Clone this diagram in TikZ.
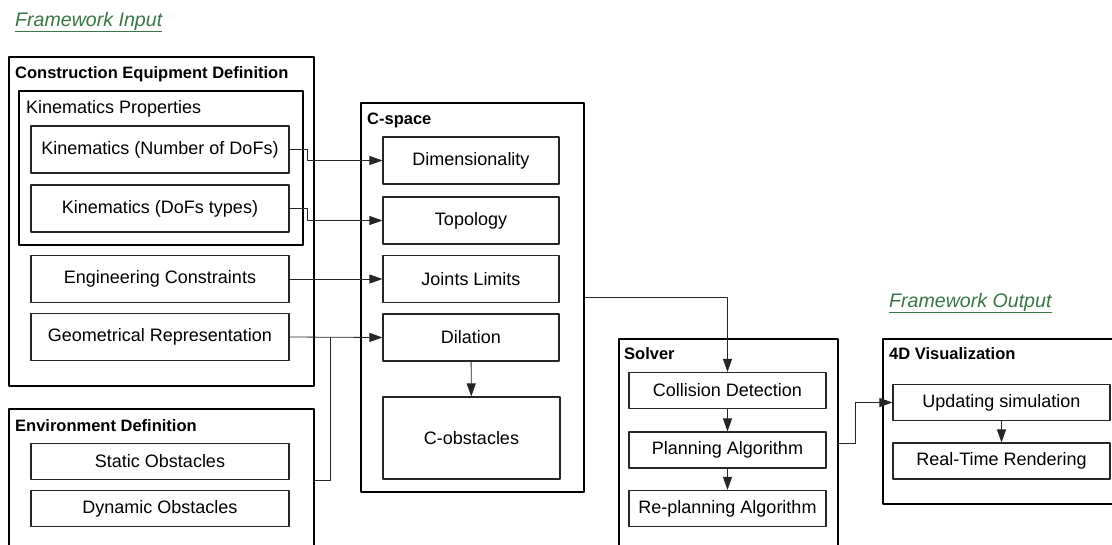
\documentclass[tikz,border=0pt]{standalone}
\usepackage{fontspec}
\setmainfont{Liberation Sans}
\usetikzlibrary{arrows.meta}
\definecolor{fwgreen}{RGB}{56,118,70}

\begin{document}
\begin{tikzpicture}[x=1pt, y=-1pt, font=\fontsize{18}{21}\selectfont, line join=round, >={Triangle[length=13pt,width=9pt]},
	obox/.style={draw, line width=1.8pt, inner sep=0pt, anchor=north west},
	ibox/.style={draw=black!85, line width=1.1pt, inner sep=0pt},
	title/.style={anchor=base west, inner sep=0pt, font=\fontsize{16.5}{20}\selectfont\bfseries},
	conn/.style={line width=0.8pt, black!85},
	fwlabel/.style={anchor=base west, inner sep=0pt, text=fwgreen, font=\fontsize{19.6}{23}\selectfont\itshape}]
	\useasboundingbox (0,0) rectangle (1112,544);
	\clip (0,0) rectangle (1112,544);
	
	% frames
	\node[obox, minimum width=305, minimum height=329] (ced) at (8,56) {};
	\node[obox, minimum width=284, minimum height=154] (kp) at (18,90) {};
	\node[obox, minimum width=305, minimum height=142] (env) at (8,408) {};
	\node[obox, minimum width=223, minimum height=389] (cs) at (360,102) {};
	\node[obox, minimum width=219, minimum height=222] (sv) at (618,338) {};
	\node[obox, minimum width=238, minimum height=165] (vis) at (882,338) {};
	
	\node[fwlabel] (fin) at (15,26) {\underline{Framework Input}};
	\node[fwlabel] (fout) at (889,307) {\underline{Framework Output}};
	\node[title] (tced) at (15,78) {Construction Equipment Definition};
	\node[title, font=\fontsize{18}{21}\selectfont] (tkp) at (26,113) {Kinematics Properties};
	\node[title] (tenv) at (15,431) {Environment Definition};
	\node[title] (tcs) at (367,124) {C-space};
	\node[title] (tsv) at (624,359) {Solver};
	\node[title] (tvis) at (889,359) {4D Visualization};
	
	% input column
	\foreach \n/\y/\h/\t in {kn/149.5/47/{Kinematics (Number of DoFs)}, dt/208.5/47/{Kinematics (DoFs types)},
		eng/279/47/{Engineering Constraints}, geo/337/47/{Geometrical Representation},
		so/461.5/36/{Static Obstacles}, do/508.5/36/{Dynamic Obstacles}}
	\node[ibox, minimum width=258, minimum height=\h] (\n) at (160,\y) {\t};
	
	% c-space column
	\foreach \n/\y/\t in {dim/160.5/Dimensionality, topo/220.5/Topology, jl/279/Joints Limits, dil/337.5/Dilation}
	\node[ibox, minimum width=176, minimum height=47] (\n) at (471,\y) {\t};
	\node[ibox, minimum width=177, minimum height=82] (cob) at (471.5,438) {C-obstacles};
	
	% solver and output
	\foreach \n/\y/\t in {cd/390.5/Collision Detection, pa/450/Planning Algorithm, rp/508.5/Re-planning Algorithm}
	\node[ibox, minimum width=197, minimum height=36] (\n) at (727.5,\y) {\t};
	\foreach \n/\y/\t in {up/402.5/Updating simulation, rt/461/Real-Time Rendering}
	\node[ibox, minimum width=217, minimum height=36] (\n) at (1001.5,\y) {\t};
	
	% connectors
	\draw[conn, ->] (kn.east) -- ++(18,0) |- (dim.west);
	\draw[conn, ->] (dt.east) -- ++(18,0) |- (topo.west);
	\draw[conn, ->] (eng.east) -- (jl.west);
	\draw[conn, ->] (geo.east) -- (dil.west);
	\draw[conn] (env.east) -| ([xshift=41pt]geo.east);
	\draw[conn, ->] (dil) -- (cob);
	\draw[conn, ->] (cs.east) -| (cd.north);
	\draw[conn, ->] (cd) -- (pa);
	\draw[conn, ->] (pa) -- (rp);
	\draw[conn, ->] ([yshift=-105pt]sv.north east) -- ++(17,0) |- (up.west);
	\draw[conn, ->] (up) -- (rt);
\end{tikzpicture}
\end{document}
